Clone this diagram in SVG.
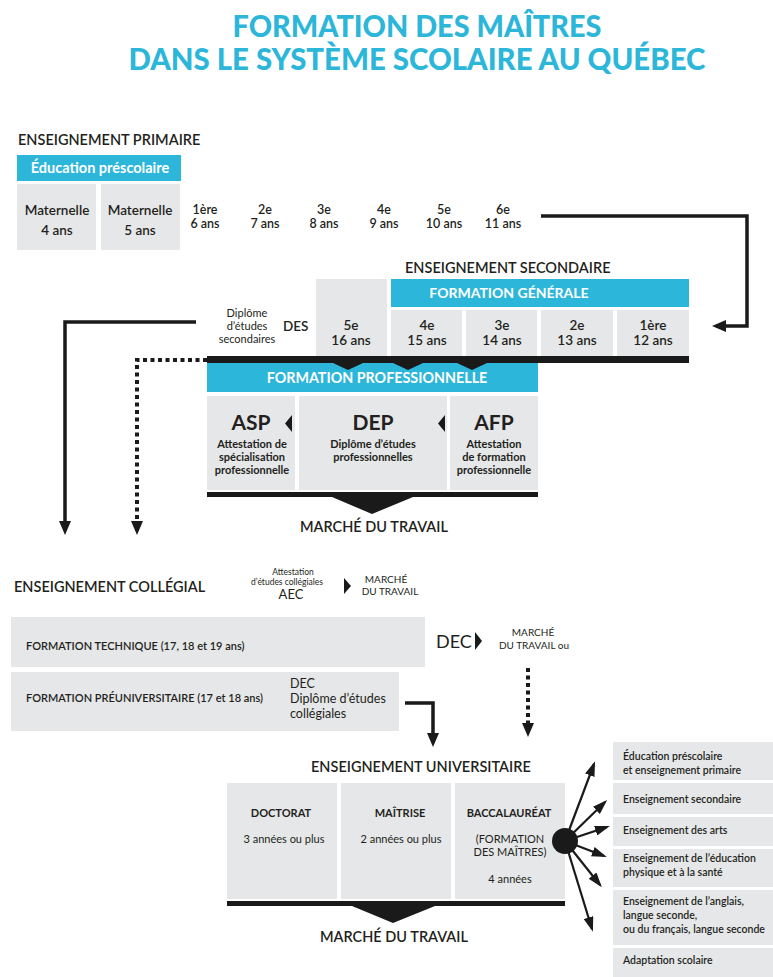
<svg xmlns="http://www.w3.org/2000/svg" width="773" height="977" viewBox="0 0 773 977">
<style>
text{font-family:Lato,"Open Sans","Liberation Sans",sans-serif;fill:#231f20}
.title{font-size:29.5px;font-weight:900;fill:#2cb6d9}
.h{font-size:14.5px;font-weight:600}
.wh{fill:#ffffff;font-weight:700;font-size:14px}
.g{fill:#e6e7e8}
.cy{fill:#2cb6d9}
.k{fill:#1a1a1a}
.gr{font-size:13.5px;font-weight:600}
.gp{font-size:12.5px;font-weight:600}
.c{text-anchor:middle}
.big{font-size:21px;font-weight:700}
.sb{font-size:11px;font-weight:700}
.sm{font-size:11px}
.r{font-size:10.5px;font-weight:600}
.ln{fill:none;stroke:#1a1a1a;stroke-width:3.5}
.dt{fill:none;stroke:#1a1a1a;stroke-width:4;stroke-dasharray:4 3.5}
.ra{fill:none;stroke:#1a1a1a;stroke-width:2.2}
</style>
<defs>
<marker id="arr" viewBox="0 0 14 12" refX="10" refY="6" markerWidth="14" markerHeight="12" markerUnits="userSpaceOnUse" orient="auto"><path d="M0,0 L14,6 L0,12 z" fill="#1a1a1a"/></marker>
<marker id="arrS" viewBox="0 0 15 10" refX="12" refY="5" markerWidth="15" markerHeight="10" markerUnits="userSpaceOnUse" orient="auto"><path d="M0,0 L15,5 L0,10 z" fill="#1a1a1a"/></marker>
</defs>

<g id="title">
<text class="title c" x="417" y="37" textLength="369" lengthAdjust="spacingAndGlyphs">FORMATION DES MAÎTRES</text>
<text class="title c" x="417" y="70" textLength="577" lengthAdjust="spacingAndGlyphs">DANS LE SYSTÈME SCOLAIRE AU QUÉBEC</text>
</g>

<g id="primaire">
<text class="h" x="18" y="145">ENSEIGNEMENT PRIMAIRE</text>
<rect class="cy" x="17" y="155" width="164" height="26"/>
<text class="wh c" x="100" y="173" style="font-size:14.5px">Éducation préscolaire</text>
<rect class="g" x="17" y="184" width="79" height="66"/>
<rect class="g" x="101" y="184" width="79" height="66"/>
<text class="gr c" x="57" y="215">Maternelle</text>
<text class="gr c" x="57" y="235">4 ans</text>
<text class="gr c" x="140" y="215">Maternelle</text>
<text class="gr c" x="140" y="235">5 ans</text>
<text class="gp c" x="205" y="214">1ère</text><text class="gp c" x="205" y="228">6 ans</text>
<text class="gp c" x="265" y="214">2e</text><text class="gp c" x="265" y="228">7 ans</text>
<text class="gp c" x="324" y="214">3e</text><text class="gp c" x="324" y="228">8 ans</text>
<text class="gp c" x="384" y="214">4e</text><text class="gp c" x="384" y="228">9 ans</text>
<text class="gp c" x="444" y="214">5e</text><text class="gp c" x="444" y="228">10 ans</text>
<text class="gp c" x="503" y="214">6e</text><text class="gp c" x="503" y="228">11 ans</text>
</g>

<g id="secondaire">
<text class="h" x="405" y="273">ENSEIGNEMENT SECONDAIRE</text>
<rect class="g" x="316" y="279" width="71" height="77"/>
<rect class="cy" x="391" y="279" width="298" height="28"/>
<text class="wh c" x="509" y="298">FORMATION GÉNÉRALE</text>
<rect class="g" x="391" y="310" width="71" height="46"/>
<rect class="g" x="466" y="310" width="71" height="46"/>
<rect class="g" x="541" y="310" width="72" height="46"/>
<rect class="g" x="617" y="310" width="72" height="46"/>
<text class="gr c" x="351" y="330">5e</text><text class="gr c" x="351" y="345">16 ans</text>
<text class="gr c" x="427" y="330">4e</text><text class="gr c" x="427" y="345">15 ans</text>
<text class="gr c" x="502" y="330">3e</text><text class="gr c" x="502" y="345">14 ans</text>
<text class="gr c" x="577" y="330">2e</text><text class="gr c" x="577" y="345">13 ans</text>
<text class="gr c" x="653" y="330">1ère</text><text class="gr c" x="653" y="345">12 ans</text>
<text class="sm c" x="247" y="317">Diplôme</text>
<text class="sm c" x="247" y="330">d’études</text>
<text class="sm c" x="247" y="343">secondaires</text>
<text class="gr" x="283" y="331">DES</text>
<rect class="k" x="207" y="356" width="482" height="7"/>
</g>

<g id="professionnelle">
<rect class="cy" x="207" y="363" width="331" height="29"/>
<polygon class="k" points="333,363 363,363 348,370"/>
<polygon class="k" points="393,363 423,363 408,370"/>
<polygon class="k" points="457,363 487,363 472,370"/>
<text class="wh c" x="377" y="383" style="font-size:14.3px">FORMATION PROFESSIONNELLE</text>
<rect class="g" x="207" y="396" width="88" height="94"/>
<rect class="g" x="299" y="396" width="148" height="94"/>
<rect class="g" x="450" y="396" width="88" height="94"/>
<polygon class="k" points="285,423.5 292,415 292,432"/>
<polygon class="k" points="438,423.5 445,415 445,432"/>
<text class="big c" x="251" y="430">ASP</text>
<text class="sb c" x="252" y="448">Attestation de</text>
<text class="sb c" x="252" y="461">spécialisation</text>
<text class="sb c" x="252" y="474">professionnelle</text>
<text class="big c" x="373" y="430">DEP</text>
<text class="sb c" x="373" y="448">Diplôme d’études</text>
<text class="sb c" x="373" y="461">professionnelles</text>
<text class="big c" x="494" y="430">AFP</text>
<text class="sb c" x="494" y="448">Attestation</text>
<text class="sb c" x="494" y="461">de formation</text>
<text class="sb c" x="494" y="474">professionnelle</text>
<rect class="k" x="207" y="492" width="331" height="5"/>
<polygon class="k" points="332,497 413,497 372,514"/>
<text class="h c" x="374" y="532">MARCHÉ DU TRAVAIL</text>
</g>

<g id="collegial">
<text class="h" x="14" y="592">ENSEIGNEMENT COLLÉGIAL</text>
<text class="c" x="293" y="575" style="font-size:8.5px">Attestation</text>
<text class="c" x="287" y="585" style="font-size:8.5px">d’études collégiales</text>
<text class="c" x="291" y="599" style="font-size:13px">AEC</text>
<polygon class="k" points="344,578 351,586 344,594"/>
<text class="c" x="386" y="583" style="font-size:10px">MARCHÉ</text>
<text class="c" x="390" y="595" style="font-size:10px">DU TRAVAIL</text>
<rect class="g" x="11" y="617" width="414" height="50"/>
<text class="r" x="26" y="650" style="font-size:11px">FORMATION TECHNIQUE (17, 18 et 19 ans)</text>
<text x="436" y="648" style="font-size:18px">DEC</text>
<polygon class="k" points="475,632 482,641 475,650"/>
<text class="c" x="533" y="636" style="font-size:10px">MARCHÉ</text>
<text class="c" x="534" y="649" style="font-size:10px">DU TRAVAIL ou</text>
<rect class="g" x="11" y="672" width="388" height="59"/>
<text class="r" x="26" y="702" style="font-size:11px">FORMATION PRÉUNIVERSITAIRE (17 et 18 ans)</text>
<text x="290" y="688" style="font-size:12.5px">DEC</text>
<text x="290" y="703" style="font-size:12.5px">Diplôme d’études</text>
<text x="290" y="718" style="font-size:12.5px">collégiales</text>
</g>

<g id="universitaire">
<text class="h" x="311" y="772">ENSEIGNEMENT UNIVERSITAIRE</text>
<rect class="g" x="227" y="783" width="110" height="116"/>
<rect class="g" x="341" y="783" width="110" height="116"/>
<rect class="g" x="455" y="783" width="110" height="116"/>
<text class="sb c" x="281" y="817">DOCTORAT</text>
<text class="sm c" x="284" y="843">3 années ou plus</text>
<text class="sb c" x="400" y="817">MAÎTRISE</text>
<text class="sm c" x="401" y="843">2 années ou plus</text>
<text class="sb c" x="509" y="817">BACCALAURÉAT</text>
<text class="sm c" x="510" y="843">(FORMATION</text>
<text class="sm c" x="510" y="856">DES MAÎTRES)</text>
<text class="sm c" x="510" y="883">4 années</text>
<rect class="k" x="227" y="901" width="338" height="5"/>
<polygon class="k" points="352,906 435,906 393,923"/>
<text class="h c" x="394" y="942">MARCHÉ DU TRAVAIL</text>
</g>

<g id="specialites">
<rect class="g" x="613" y="742" width="160" height="38"/>
<text class="r" x="623" y="760">Éducation préscolaire</text>
<text class="r" x="623" y="774">et enseignement primaire</text>
<rect class="g" x="613" y="783" width="160" height="31"/>
<text class="r" x="623" y="803">Enseignement secondaire</text>
<rect class="g" x="613" y="817" width="160" height="29"/>
<text class="r" x="623" y="834">Enseignement des arts</text>
<rect class="g" x="613" y="849" width="160" height="38"/>
<text class="r" x="623" y="862">Enseignement de l’éducation</text>
<text class="r" x="623" y="876">physique et à la santé</text>
<rect class="g" x="613" y="890" width="160" height="55"/>
<text class="r" x="623" y="905">Enseignement de l’anglais,</text>
<text class="r" x="623" y="919">langue seconde,</text>
<text class="r" x="623" y="933">ou du français, langue seconde</text>
<rect class="g" x="613" y="948" width="160" height="29"/>
<text class="r" x="623" y="964">Adaptation scolaire</text>
</g>

<g id="connecteurs">
<path class="ln" d="M541 216 H747 V326 H716" marker-end="url(#arr)"/>
<path class="ln" d="M196 322 H65 V531" marker-end="url(#arr)"/>
<path class="dt" d="M207 360 H137 V531" marker-end="url(#arr)"/>
<path class="ln" d="M405 703 H433 V743" marker-end="url(#arr)"/>
<path class="dt" d="M528 668 V733" marker-end="url(#arr)"/>
<circle cx="565" cy="841" r="13" fill="#1a1a1a"/>
<line class="ra" x1="565" y1="841" x2="594" y2="764" marker-end="url(#arrS)"/>
<line class="ra" x1="565" y1="841" x2="605" y2="802" marker-end="url(#arrS)"/>
<line class="ra" x1="565" y1="841" x2="607" y2="827" marker-end="url(#arrS)"/>
<line class="ra" x1="565" y1="841" x2="604" y2="856" marker-end="url(#arrS)"/>
<line class="ra" x1="565" y1="841" x2="600" y2="885" marker-end="url(#arrS)"/>
<line class="ra" x1="565" y1="841" x2="592" y2="929" marker-end="url(#arrS)"/>
</g>
</svg>
